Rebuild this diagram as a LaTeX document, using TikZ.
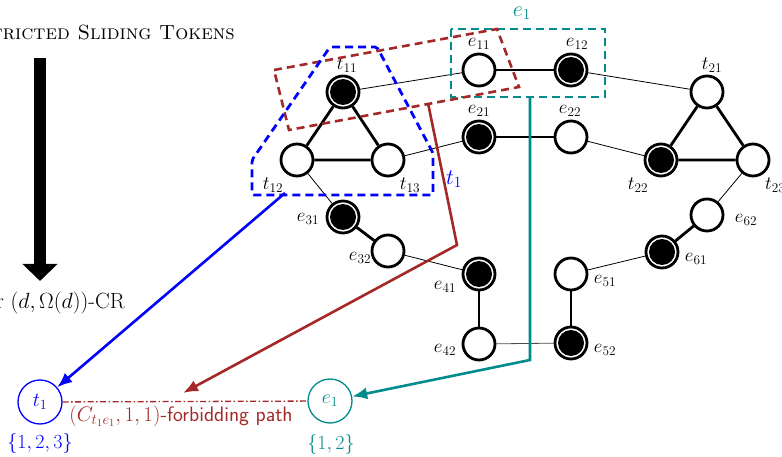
\RequirePackage{fix-cm}
\documentclass[tikz,border=0pt]{standalone}
\usepackage{fontspec}
\usetikzlibrary{arrows.meta,backgrounds}
\definecolor{fbrown}{RGB}{165,40,40}
\definecolor{eteal}{RGB}{0,140,140}
\begin{document}
\begin{tikzpicture}[x=1pt,y=-1pt,
  every node/.style={font=\fontsize{19}{23}\selectfont},
  bigtext/.style={font=\fontsize{20.5}{24}\selectfont},
  crtext/.style={font=\fontsize{22}{26}\selectfont},
  pathtext/.style={font=\fontsize{21}{25}\selectfont},
  setlab/.style={font=\fontsize{22}{26}\selectfont},
  botlab/.style={font=\fontsize{20}{24}\selectfont},
  vert/.style={circle,draw=black,line width=2.8pt,fill=white,minimum size=32pt,inner sep=0pt},
  tok/.style={vert,path picture={\fill[black] (path picture bounding box.center) circle (13pt);}},
  thickedge/.style={line width=2.8pt},
  thinedge/.style={line width=0.8pt},
  lab/.style={inner sep=0pt},
  bluebox/.style={draw=blue,line width=2.8pt,dash pattern=on 8pt off 5pt,rounded corners=2pt},
  brownbox/.style={draw=fbrown,line width=2.6pt,dash pattern=on 8pt off 5pt},
  tealbox/.style={draw=eteal,line width=2.6pt,dash pattern=on 8pt off 5pt},
  bigarrow/.style={line width=12pt,-{Triangle[width=34pt,length=17pt]}},
  colarrow/.style={line width=2.6pt,-{Latex[length=15pt,width=12pt]}},
  small/.style={circle,line width=1.3pt,minimum size=44pt,inner sep=0pt,botlab}
]
\useasboundingbox (0,0) rectangle (782,457);

% left part
\node[bigtext,anchor=base east,inner sep=0pt] (title) at (235,40) {\textsc{Restricted Sliding Tokens}};
\node[crtext,anchor=base east,inner sep=0pt] (cr) at (125,308) {for $(d,\Omega(d))$-CR};
\coordinate (a1) at (40,58);
\coordinate (a2) at (40,281);
\draw[bigarrow] (a1) -- (a2);

% graph vertices
\node[tok]  (t11) at (343,92) {};
\node[vert] (t12) at (297,160) {};
\node[vert] (t13) at (388,160) {};
\node[vert] (e11) at (479,70) {};
\node[tok]  (e12) at (571,70) {};
\node[tok]  (e21) at (479,137) {};
\node[vert] (e22) at (571,137) {};
\node[vert] (t21) at (707,92) {};
\node[tok]  (t22) at (661,160) {};
\node[vert] (t23) at (753,160) {};
\node[vert] (e62) at (707,215) {};
\node[tok]  (e61) at (662,252) {};
\node[vert] (e51) at (571,274) {};
\node[tok]  (e52) at (571,343) {};
\node[tok]  (e31) at (343,217) {};
\node[vert] (e32) at (388,251) {};
\node[tok]  (e41) at (479,274) {};
\node[vert] (e42) at (479,344) {};

\begin{pgfonlayer}{background}
\draw[thickedge] (t11) -- (t12) -- (t13) -- (t11);
\draw[thickedge] (t21) -- (t22) -- (t23) -- (t21);
\draw[thickedge] (e11) -- (e12);
\draw[thickedge] (e21) -- (e22);
\draw[thickedge] (e31) -- (e32);
\draw[thickedge] (e41) -- (e42);
\draw[thickedge] (e51) -- (e52);
\draw[thickedge] (e61) -- (e62);
\draw[thinedge] (t11) -- (e11);
\draw[thinedge] (t13) -- (e21);
\draw[thinedge] (t12) -- (e31);
\draw[thinedge] (e32) -- (e41);
\draw[thinedge,black!70] (e42) -- (e52);
\draw[thinedge] (e51) -- (e61);
\draw[thinedge] (t23) -- (e62);
\draw[thinedge] (e22) -- (t22);
\draw[thinedge] (e12) -- (t21);
\end{pgfonlayer}

% vertex labels
\node[lab] (lt11) at (347,65) {$t_{11}$};
\node[lab] (lt12) at (273,185) {$t_{12}$};
\node[lab] (lt13) at (410,185) {$t_{13}$};
\node[lab] (le11) at (479,44) {$e_{11}$};
\node[lab] (le12) at (577,44) {$e_{12}$};
\node[lab] (le21) at (479,111) {$e_{21}$};
\node[lab] (le22) at (570,111) {$e_{22}$};
\node[lab] (lt21) at (712,65) {$t_{21}$};
\node[lab] (lt22) at (638,185) {$t_{22}$};
\node[lab,anchor=west] (lt23) at (765,185) {$t_{23}$};
\node[lab] (le62) at (746,220) {$e_{62}$};
\node[lab] (le61) at (696,259) {$e_{61}$};
\node[lab] (le51) at (605,281) {$e_{51}$};
\node[lab] (le52) at (605,350) {$e_{52}$};
\node[lab] (le31) at (308,219) {$e_{31}$};
\node[lab] (le32) at (360,258) {$e_{32}$};
\node[lab] (le41) at (445,287) {$e_{41}$};
\node[lab] (le42) at (445,350) {$e_{42}$};

% dashed regions
\draw[tealbox] (451,29) rectangle (605,97);
\node[lab,setlab,text=eteal] (le1) at (522,13) {$e_1$};
\draw[brownbox] (274,70) -- (497,29) -- (519,87) -- (289,130) -- cycle;
\draw[bluebox] (330,47) -- (377,47) -- (433,153) -- (433,195) -- (252,195) -- (252,160) -- cycle;
\node[lab,setlab,text=blue] (lt1box) at (454,179) {$t_1$};

% bottom
\node[small,draw=blue,text=blue] (t1) at (40,402) {$t_1$};
\node[lab,botlab,text=blue] (s1) at (40,443) {$\{1,2,3\}$};
\node[small,draw=eteal,text=eteal] (e1) at (330,401) {$e_1$};
\node[lab,botlab,text=eteal] (s2) at (331,444) {$\{1,2\}$};
\draw[fbrown,line width=1.3pt,dash pattern=on 6pt off 2.5pt on 1.5pt off 2.5pt] (t1) -- (e1);
\node[lab,pathtext,text=fbrown] (fp) at (181,416) {$(C_{t_1e_1},1,1)$\textsf{-forbidding path}};

% colored arrows
\coordinate (bs) at (285,193);
\draw[colarrow,blue] (bs) -- (t1);
\coordinate (rs) at (428,103);
\coordinate (rm) at (457,245);
\coordinate (re) at (183,393);
\draw[colarrow,fbrown] (rs) -- (rm) -- (re);
\coordinate (ts) at (530,97);
\coordinate (tm) at (530,360);
\draw[colarrow,eteal] (ts) -- (tm) -- (e1);
\end{tikzpicture}
\end{document}
